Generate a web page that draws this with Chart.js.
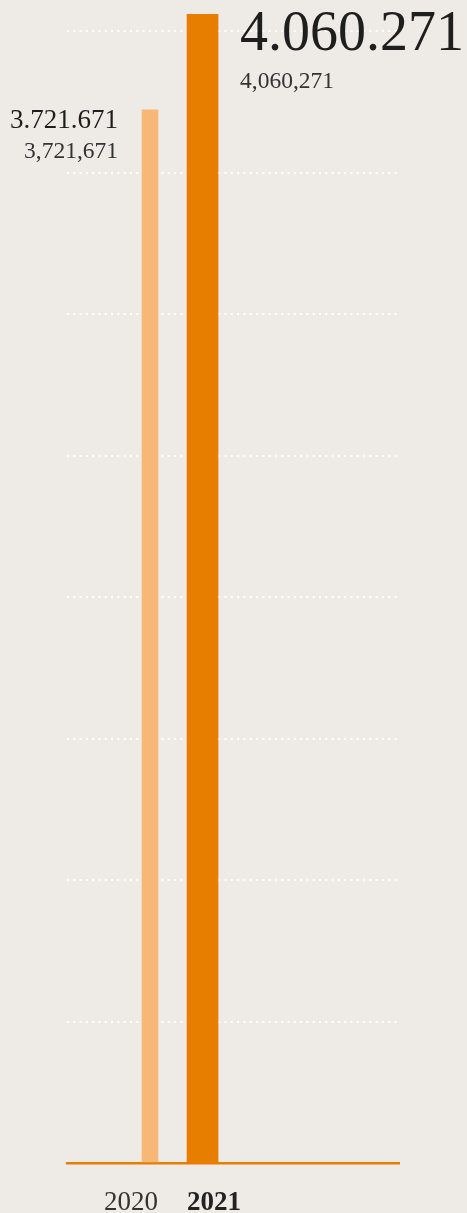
<!DOCTYPE html>
<html>
<head>
<meta charset="utf-8">
<script src="https://cdn.jsdelivr.net/npm/chart.js@4.4.1/dist/chart.umd.min.js"></script>
<style>
  html, body { margin: 0; padding: 0; background: #eeebe6; }
  canvas { display: block; }
</style>
</head>
<body>
<canvas id="c" width="467" height="1213"></canvas>
<script>
// data
const years = [2020, 2021];
const visitors = [3721671, 4060271];
const barColors = ["#f7b877", "#e77e00"];
const gridStep = 500000;

const fmt = (n, sep) => String(n).replace(/\B(?=(\d{3})+(?!\d))/g, sep);

// value + year labels drawn next to the bars
const labelPlugin = {
  id: "labels",
  afterDatasetsDraw(chart) {
    const ctx = chart.ctx;
    const bottom = chart.chartArea.bottom;
    ctx.save();
    chart.data.datasets.forEach((ds, i) => {
      const bar = chart.getDatasetMeta(i).data[0];
      if (!bar) return;
      const left = bar.x - bar.width / 2;
      const right = bar.x + bar.width / 2;
      const val = ds.data[0].y;
      const last = i === chart.data.datasets.length - 1;
      ctx.fillStyle = "#1e1e1e";
      if (last) {
        ctx.textAlign = "left";
        ctx.font = "56px 'Liberation Serif'";
        ctx.fillText(fmt(val, "."), right + 22, bar.y + 36);
        ctx.fillStyle = "#333";
        ctx.font = "23.5px 'Liberation Serif'";
        ctx.fillText(fmt(val, ","), right + 22, bar.y + 74);
        ctx.font = "bold 27px 'Liberation Serif'";
        ctx.fillStyle = "#222";
        ctx.fillText(String(ds.data[0].x), left, bottom + 47);
      } else {
        ctx.textAlign = "right";
        ctx.font = "27px 'Liberation Serif'";
        ctx.fillText(fmt(val, "."), left - 24, bar.y + 18);
        ctx.fillStyle = "#333";
        ctx.font = "23.5px 'Liberation Serif'";
        ctx.fillText(fmt(val, ","), left - 24, bar.y + 48);
        ctx.font = "27px 'Liberation Serif'";
        ctx.fillStyle = "#333";
        ctx.fillText(String(ds.data[0].x), right, bottom + 47);
      }
    });
    ctx.restore();
  }
};

new Chart(document.getElementById("c"), {
  type: "bar",
  data: {
    datasets: years.map((yr, i) => ({
      label: String(yr),
      data: [{ x: yr, y: visitors[i] }],
      backgroundColor: barColors[i],
      barThickness: i === years.length - 1 ? 31 : 16,
      grouped: false
    }))
  },
  options: {
    responsive: false,
    animation: false,
    layout: { padding: { left: 67, right: 68, top: 14, bottom: 42 } },
    plugins: { legend: { display: false }, tooltip: { enabled: false } },
    scales: {
      x: {
        type: "linear",
        offset: false,
        min: 2018.42,
        max: 2024.74,
        z: 2,
        grid: { display: false },
        ticks: { display: false },
        border: { display: true, color: "#e77e00", width: 2.5 }
      },
      y: {
        min: 0,
        max: Math.max(...visitors),
        z: 1,
        afterBuildTicks: (s) => {
          const t = [];
          for (let v = 0; v <= s.max; v += gridStep) t.push({ value: v });
          s.ticks = t;
        },
        ticks: { display: false },
        grid: {
          drawTicks: false,
          lineWidth: 2,
          color: (c) => (c.tick && c.tick.value === 0 ? "rgba(0,0,0,0)" : "#ffffff")
        },
        border: { display: false, dash: [2, 4.3] }
      }
    }
  },
  plugins: [labelPlugin]
});
</script>
</body>
</html>
